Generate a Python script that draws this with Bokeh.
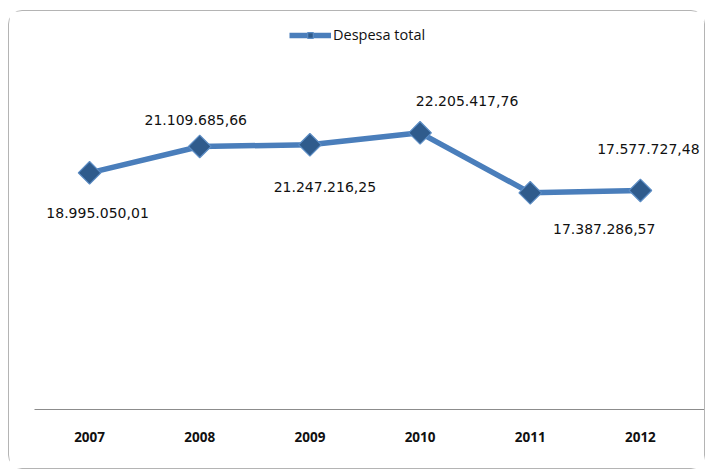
import math
from bokeh.plotting import figure
from bokeh.models import ColumnDataSource, Range1d, Legend, LegendItem, LabelSet, FixedTicker
from bokeh.core.properties import value
from bokeh.embed import file_html
from bokeh.resources import INLINE

years = ["2007", "2008", "2009", "2010", "2011", "2012"]
despesa = [18995050.01, 21109685.66, 21247216.25, 22205417.76, 17387286.57, 17577727.48]
labels = ["18.995.050,01", "21.109.685,66", "21.247.216,25", "22.205.417,76", "17.387.286,57", "17.577.727,48"]
# label placement (screen px): positive y_offset = up
lab_dx = [8, -4, 15, 47, 74, 8]
lab_dy = [-40, 26, -42, 32, -36, 41]

idx = list(range(len(years)))
src = ColumnDataSource(dict(x=idx, y=despesa, lab=labels, dx=lab_dx, dy=lab_dy))

W, H = 697, 459
p = figure(x_range=Range1d(-0.5, 5.6), y_range=Range1d(0, 31.14e6), width=W, height=H,
           output_backend="svg", toolbar_location=None,
           min_border_left=25, min_border_right=0, min_border_top=10, min_border_bottom=61,
           styles={"border": "1.5px solid #b4b4b4", "border-radius": "14px",
                   "box-sizing": "border-box", "margin-left": "8px", "margin-top": "10px"})
p.outline_line_color = None
p.xgrid.visible = False
p.ygrid.visible = False
p.yaxis.visible = False
p.xaxis.ticker = FixedTicker(ticks=idx)
p.xaxis.major_label_overrides = {i: y for i, y in zip(idx, years)}
p.xaxis.axis_line_color = "#8c8c8c"
p.xaxis.axis_line_width = 1.2
p.xaxis.major_tick_line_color = None
p.xaxis.minor_tick_line_color = None
p.xaxis.major_label_text_font = "Open Sans"
p.xaxis.major_label_text_font_style = "bold"
p.xaxis.major_label_text_font_size = "13.5px"
p.xaxis.major_label_text_color = "#111111"
p.xaxis.major_label_standoff = 16

ln = p.line("x", "y", source=src, line_color="#4a7ebb", line_width=5.5)
mk = p.scatter("x", "y", source=src, marker="square", angle=math.pi / 4, size=16,
               fill_color="#2f5b8c", line_color="#5b8cc4", line_width=1.2)

lbl = LabelSet(x="x", y="y", text="lab", source=src, x_offset="dx", y_offset="dy",
               text_align="center", text_baseline="middle",
               text_font=value("DejaVu Sans"), text_font_size=value("14px"),
               text_color=value("#111111"))
p.add_layout(lbl)

legend = Legend(items=[LegendItem(label="Despesa total", renderers=[ln, mk])],
                location=(255, 365), border_line_color=None, background_fill_alpha=0,
                label_text_font="Open Sans", label_text_font_size="14.5px",
                label_text_color="#111111", glyph_width=42, glyph_height=14,
                label_standoff=2, padding=4, margin=0)
p.add_layout(legend)

open("out.html", "w").write(file_html(p, INLINE))
